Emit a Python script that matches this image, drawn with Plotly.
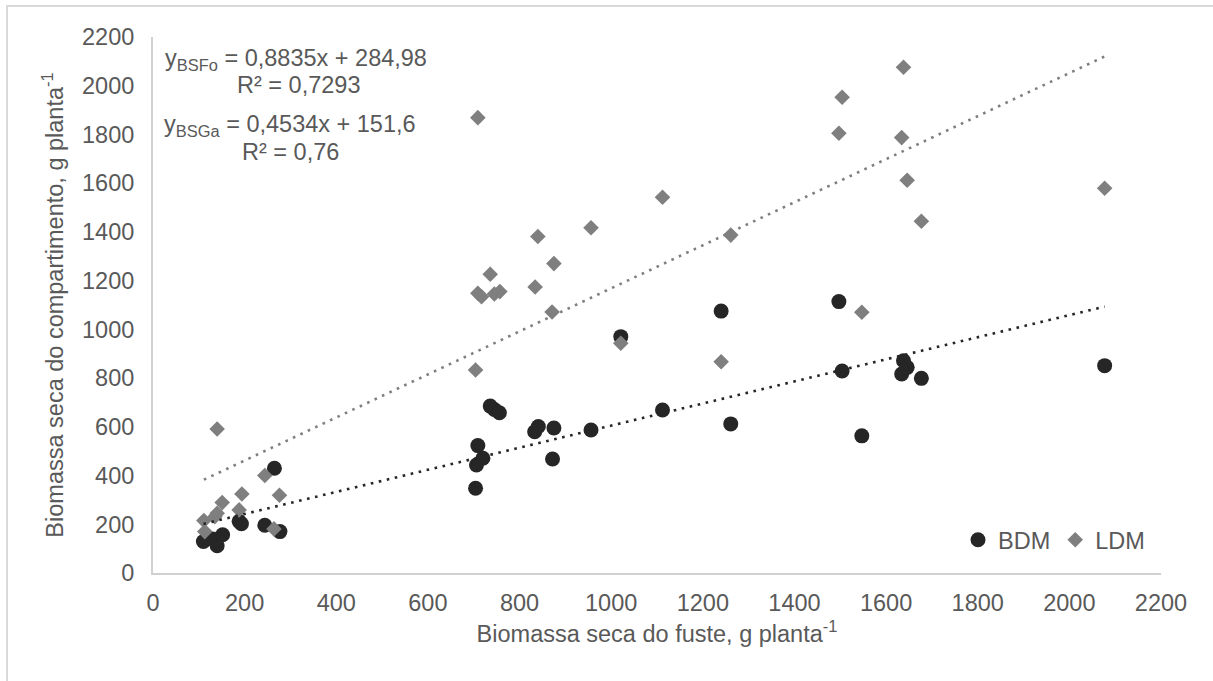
import plotly.graph_objects as go

# Stem dry biomass (x) vs. compartment dry biomass (y), g planta^-1
bdm_x = [110, 130, 140, 152, 188, 193, 244, 265, 277,
         704, 706, 709, 720, 736, 745, 756, 833, 841, 872, 875, 956, 1021, 1112, 1240, 1261,
         1497, 1504, 1547, 1634, 1638, 1646, 1677, 2077]
bdm_y = [129, 140, 112, 157, 212, 202, 196, 430, 170,
         348, 443, 523, 471, 685, 671, 658, 580, 601, 468, 595, 587, 970, 669, 1075, 612,
         1114, 829, 563, 817, 871, 844, 799, 851]

ldm_x = [111, 113, 135, 140, 140, 151, 188, 194, 244, 264, 276,
         704, 709, 709, 717, 736, 745, 757, 834, 840, 871, 875, 956, 1021, 1112, 1240, 1261,
         1497, 1504, 1547, 1634, 1638, 1646, 1677, 2077]
ldm_y = [215, 170, 231, 245, 591, 289, 259, 324, 400, 181, 319,
         833, 1148, 1869, 1134, 1226, 1145, 1155, 1174, 1381, 1071, 1270, 1417, 943, 1542, 867, 1387,
         1805, 1953, 1070, 1787, 2076, 1612, 1444, 1579]

# Linear trend coefficients (slope, intercept) as printed on the chart
bsfo_fit = (0.8835, 284.98)   # LDM
bsga_fit = (0.4534, 151.6)    # BDM

eq_labels = ["y<sub>BSFo</sub> = 0,8835x + 284,98", "R² = 0,7293",
             "y<sub>BSGa</sub> = 0,4534x + 151,6", "R² = 0,76"]

x_ticks = list(range(0, 2201, 200))
y_ticks = list(range(0, 2201, 200))

FONT = "Arial, 'Liberation Sans', sans-serif"
TXT = "#595959"
DARK = "#262626"
GRAY = "#7f7f7f"
FS = 23.5

W, H = 1213, 681
L, R, T, B = 153, 52, 37, 108
PW, PH = W - L - R, H - T - B


def px(xp):
    return (xp - L) / PW


def py(yp):
    return (H - B - yp) / PH


def trend(xs, fit):
    x0, x1 = min(xs), max(xs)
    return [x0, x1], [fit[0] * x0 + fit[1], fit[0] * x1 + fit[1]]


fig = go.Figure()
fig.add_trace(go.Scatter(x=bdm_x, y=bdm_y, mode="markers", name="BDM",
                         marker=dict(symbol="circle", size=15, color=DARK, line=dict(width=0))))
fig.add_trace(go.Scatter(x=ldm_x, y=ldm_y, mode="markers", name="LDM",
                         marker=dict(symbol="diamond", size=12, color=GRAY, line=dict(width=0))))

tx, ty = trend(ldm_x, bsfo_fit)
fig.add_trace(go.Scatter(x=tx, y=ty, mode="lines", showlegend=False, hoverinfo="skip",
                         line=dict(color=GRAY, width=2.6, dash="2.6px,5.6px")))
tx, ty = trend(bdm_x, bsga_fit)
fig.add_trace(go.Scatter(x=tx, y=ty, mode="lines", showlegend=False, hoverinfo="skip",
                         line=dict(color=DARK, width=2.6, dash="2.6px,5.6px")))

axis_common = dict(
    range=[0, 2200], showgrid=False, zeroline=False, ticks="",
    showline=True, linecolor="#d0d0d0", linewidth=2,
    tickfont=dict(family=FONT, size=FS, color=TXT),
)

fig.update_xaxes(
    tickvals=x_ticks, ticktext=[str(v) for v in x_ticks],
    ticklabelstandoff=8,
    title=dict(text="Biomassa seca do fuste, g planta<sup>-1</sup>",
               font=dict(family=FONT, size=FS, color=TXT), standoff=10),
    **axis_common,
)
fig.update_yaxes(
    tickvals=y_ticks, ticktext=[str(v) for v in y_ticks],
    ticklabelstandoff=12,
    title=dict(text="Biomassa seca do compartimento, g planta<sup>-1</sup>",
               font=dict(family=FONT, size=FS, color=TXT), standoff=12),
    **axis_common,
)

ann_pos = [(296, 60), (298, 85), (290, 125), (290, 152)]
for txt, (ax_, ay_) in zip(eq_labels, ann_pos):
    fig.add_annotation(text=txt, xref="paper", yref="paper", x=px(ax_), y=py(ay_),
                       xanchor="center", yanchor="middle", showarrow=False,
                       font=dict(family=FONT, size=FS, color=TXT))

# chart-area border
fig.add_shape(type="rect", xref="paper", yref="paper",
              x0=px(7), x1=px(W + 10), y0=py(H + 10), y1=py(6),
              line=dict(color="#d9d9d9", width=2), fillcolor="rgba(0,0,0,0)", layer="below")

fig.update_layout(
    width=W, height=H,
    margin=dict(l=L, r=R, t=T, b=B, autoexpand=False),
    paper_bgcolor="white", plot_bgcolor="white",
    font=dict(family=FONT, size=FS, color=TXT),
    showlegend=True,
    legend=dict(orientation="h", x=px(958), y=py(540), xanchor="left", yanchor="middle",
                font=dict(family=FONT, size=FS, color=TXT), bgcolor="rgba(0,0,0,0)",
                itemsizing="trace", traceorder="normal"),
)

fig.write_html("out.html")
